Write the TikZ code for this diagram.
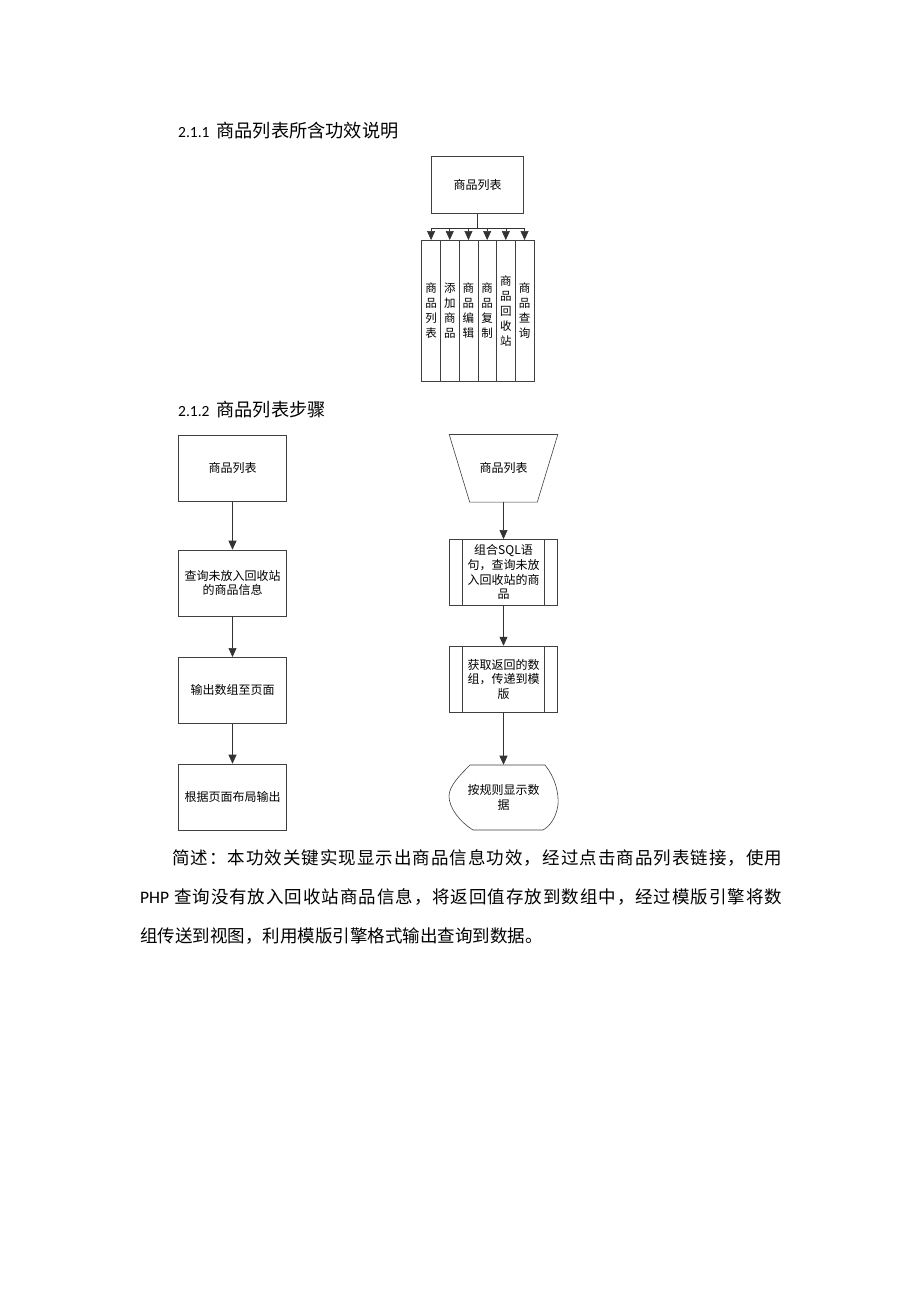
\documentclass[tikz,border=0pt]{standalone}
\usepackage{fontspec}
\setmainfont{Noto Sans CJK SC}
\newfontfamily\latinfont{Carlito}
\usetikzlibrary{positioning}
\usetikzlibrary{arrows.meta}

\def\sprd#1{\ifx\relax#1\else#1\hfil\expandafter\sprd\fi}

\tikzset{
  flowbox/.style={draw=black!75,line width=0.6pt,minimum width=108pt,minimum height=66pt,inner sep=1pt,align=center,text width=96pt,font=\fontsize{12}{14.7}\selectfont},
  procbox/.style={flowbox,path picture={\draw[black!75,line width=0.6pt] ([xshift=13pt]path picture bounding box.north west) -- ([xshift=13pt]path picture bounding box.south west) ([xshift=-13pt]path picture bounding box.north east) -- ([xshift=-13pt]path picture bounding box.south east);}},
  plainbox/.style={flowbox,draw=none},
  colbox/.style={draw=black!75,line width=0.6pt,minimum width=18.7pt,minimum height=141.7pt,inner sep=0pt,outer sep=0pt,align=center,text width=14pt,font=\fontsize{11.5}{15}\selectfont},
  flowarrow/.style={draw=black!80,line width=0.6pt,-{Triangle[length=9pt,width=8pt]}},
  headtext/.style={anchor=west,inner sep=0pt,font=\fontsize{18.2}{22}\selectfont},
  bodytext/.style={anchor=west,inner sep=0pt,font=\fontsize{17.5}{20}\selectfont},
}

\begin{document}
\begin{tikzpicture}[x=1pt,y=-1pt]
\useasboundingbox[fill=white] (0,0) rectangle (920,1302);

\node[headtext] (h1) at (178,131) {{\latinfont\fontsize{15.5}{20}\selectfont 2.1.1}\hspace{7pt}商品列表所含功效说明};

\node[flowbox,minimum width=91.5pt,minimum height=56.5pt,text width=80pt] (top) at (477.5,185) {商品列表};
\coordinate (bar) at (478,228);
\node[colbox] (c1) at (431.05,310.85) {商\\品\\列\\表};
\node[colbox,right=0pt of c1] (c2) {添\\加\\商\\品};
\node[colbox,right=0pt of c2] (c3) {商\\品\\编\\辑};
\node[colbox,right=0pt of c3] (c4) {商\\品\\复\\制};
\node[colbox,right=0pt of c4] (c5) {商\\品\\回\\收\\站};
\node[colbox,right=0pt of c5] (c6) {商\\品\\查\\询};
\draw[black!80,line width=0.6pt] (top.south) -- (top.south |- bar);
\draw[black!80,line width=0.6pt] (c1.north |- bar) -- (c6.north |- bar);
\foreach \i in {1,...,6}
  \draw[flowarrow] (c\i.north |- bar) -- (c\i.north);

\node[headtext] (h2) at (178,410) {{\latinfont\fontsize{15.5}{20}\selectfont 2.1.2}\hspace{7pt}商品列表步骤};

\node[flowbox] (l1) at (232.5,468.3) {商品列表};
\node[flowbox] (l2) at (232.5,583) {查询未放入回收站\\的商品信息};
\node[flowbox] (l3) at (232.5,690.3) {输出数组至页面};
\node[flowbox] (l4) at (232.5,797) {根据页面布局输出};
\draw[flowarrow] (l1) -- (l2);
\draw[flowarrow] (l2) -- (l3);
\draw[flowarrow] (l3) -- (l4);

\node[plainbox,minimum height=67pt] (r1) at (503.5,468.3) {商品列表};
\draw[black!75,line width=0.6pt] (r1.north west) -- (r1.north east) -- ([xshift=-20.5pt]r1.south east) -- ([xshift=20.5pt]r1.south west) -- cycle;
\node[procbox,minimum height=65.7pt] (r2) at (503.5,572.2) {组合SQL语\\句，查询未放\\入回收站的商\\品};
\node[procbox,minimum height=66.3pt] (r3) at (503.5,679.2) {获取返回的数\\组，传递到模\\版};
\node[plainbox,minimum height=65pt] (r4) at (503.5,797.5) {按规则显示数\\据};
\draw[black!75,line width=0.6pt] (470,765) -- (545,765)
  .. controls (555,777) and (559,793) .. (558,805)
  .. controls (556,818) and (550,826) .. (543,830) -- (473,830)
  .. controls (460,822) and (449,808) .. (449,796)
  .. controls (449,786) and (460,775) .. (470,765) -- cycle;
\draw[flowarrow] (r1) -- (r2);
\draw[flowarrow] (r2) -- (r3);
\draw[flowarrow] (r3) -- (r4);

\node[bodytext] (p1) at (172,858) {\hbox to 610pt{\sprd 简述：本功效关键实现显示出商品信息功效，经过点击商品列表链接，使用\relax\unskip}};
\node[bodytext] (p2) at (140,897) {\hbox to 642pt{{\latinfont PHP}\hspace{4pt}\hfil\sprd 查询没有放入回收站商品信息，将返回值存放到数组中，经过模版引擎将数\relax\unskip}};
\node[bodytext] (p3) at (140,936) {组传送到视图，利用模版引擎格式输出查询到数据。};

\end{tikzpicture}
\end{document}
